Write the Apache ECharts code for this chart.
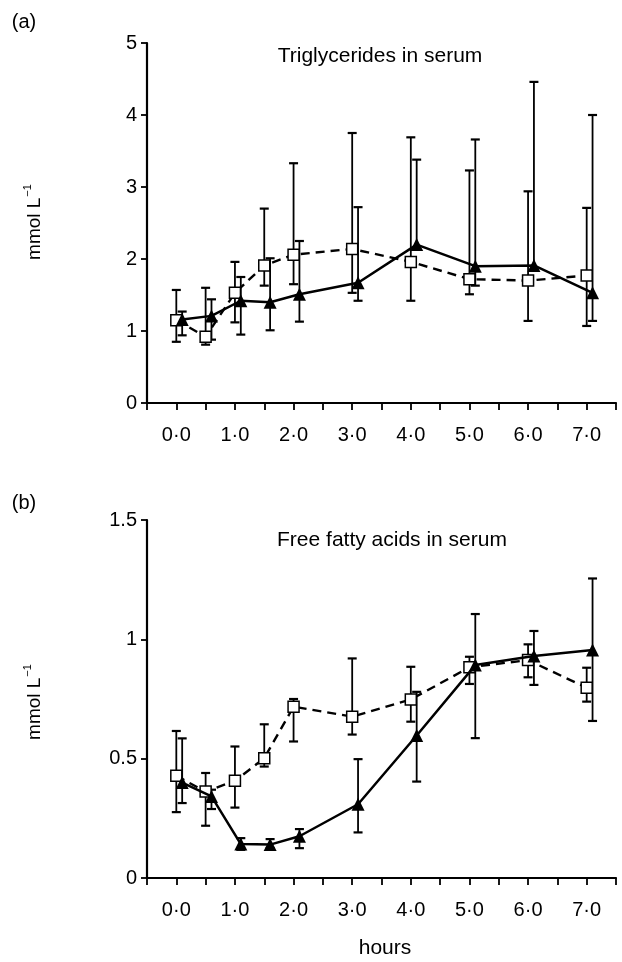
<!DOCTYPE html>
<html><head><meta charset="utf-8">
<script src="https://cdn.jsdelivr.net/npm/echarts@6/dist/echarts.min.js"></script>
<style>html,body{margin:0;padding:0;background:#fff}#c{width:622px;height:962px}</style>
</head><body><div id="c"></div>
<script>
// ---- data ----
const hours = [0, 0.5, 1, 1.5, 2, 3, 4, 5, 6, 7];
const xTickLabels = ['0·0', '1·0', '2·0', '3·0', '4·0', '5·0', '6·0', '7·0'];
const tgTicks = ['0', '1', '2', '3', '4', '5'];
const ffaTicks = ['0', '0.5', '1', '1.5'];

// Panel (a) triglycerides (mmol/L)
const tgSquare      = [1.15, 0.92, 1.53, 1.91, 2.06, 2.14, 1.96, 1.72, 1.70, 1.77];
const tgSquareHigh  = [1.57, 1.60, 1.96, 2.70, 3.33, 3.75, 3.69, 3.23, 2.94, 2.71];
const tgSquareLow   = [0.85, 0.81, 1.12, 1.63, 1.65, 1.53, 1.42, 1.51, 1.14, 1.07];
const tgTriangle     = [1.16, 1.21, 1.42, 1.40, 1.51, 1.67, 2.20, 1.90, 1.91, 1.53];
const tgTriangleHigh = [1.27, 1.44, 1.75, 2.01, 2.25, 2.72, 3.38, 3.66, 4.46, 4.00];
const tgTriangleLow  = [0.94, 0.88, 0.95, 1.01, 1.13, 1.42, 2.20, 1.63, 1.91, 1.14];

// Panel (b) free fatty acids (mmol/L)
const ffaSquare      = [0.428, 0.362, 0.407, 0.502, 0.718, 0.676, 0.748, 0.883, 0.913, 0.797];
const ffaSquareHigh  = [0.616, 0.440, 0.551, 0.644, 0.750, 0.920, 0.885, 0.927, 0.979, 0.881];
const ffaSquareLow   = [0.276, 0.219, 0.295, 0.467, 0.572, 0.601, 0.655, 0.813, 0.841, 0.739];
const ffaTriangle     = [0.400, 0.342, 0.142, 0.140, 0.175, 0.309, 0.597, 0.892, 0.930, 0.955];
const ffaTriangleHigh = [0.585, 0.370, 0.167, 0.163, 0.205, 0.498, 0.780, 1.106, 1.035, 1.255];
const ffaTriangleLow  = [0.314, 0.289, 0.118, 0.125, 0.125, 0.191, 0.404, 0.586, 0.809, 0.658];

// display offset (hours) so the triangle group does not overlap the squares
const TRIANGLE_SHIFT = 0.1;

// ---- chart ----
const FONT = '"Liberation Sans", Arial, Helvetica, sans-serif';
const chart = echarts.init(document.getElementById('c'), null, {renderer: 'canvas'});

function pts(xs, ys, shift) { return xs.map((x, i) => [x + shift, ys[i]]); }
function bars(xs, ys, lo, hi, shift) { return xs.map((x, i) => [x + shift, lo[i], hi[i], ys[i]]); }

function errorBarItem(params, api) {
  const x = api.value(0), lo = api.value(1), hi = api.value(2), v = api.value(3);
  const top = api.coord([x, hi]), bot = api.coord([x, lo]);
  const half = 4.5;
  const style = {stroke: '#000', lineWidth: 1.8};
  const cap = {stroke: '#000', lineWidth: 2.2};
  const ch = [{type: 'line', shape: {x1: top[0], y1: top[1], x2: bot[0], y2: bot[1]}, style}];
  if (hi > v) ch.push({type: 'line', shape: {x1: top[0] - half, y1: top[1], x2: top[0] + half, y2: top[1]}, style: cap});
  if (lo < v) ch.push({type: 'line', shape: {x1: bot[0] - half, y1: bot[1], x2: bot[0] + half, y2: bot[1]}, style: cap});
  return {type: 'group', children: ch};
}

function xAxisFor(gi) {
  return {
    type: 'value', gridIndex: gi, min: -0.5, max: 7.5, interval: 0.5,
    axisLine: {show: true, onZero: false, lineStyle: {color: '#000', width: 2.2}},
    axisTick: {show: true, inside: false, length: 7, lineStyle: {color: '#000', width: 1.8}},
    splitLine: {show: false},
    axisLabel: {
      margin: 22, color: '#000', fontFamily: FONT, fontSize: 20,
      formatter: v => (Math.abs(v - Math.round(v)) < 1e-9 && v >= 0 && v <= 7) ? xTickLabels[Math.round(v)] : ''
    }
  };
}
function yAxisFor(gi, max, interval, labels) {
  return {
    type: 'value', gridIndex: gi, min: 0, max: max, interval: interval,
    axisLine: {show: true, onZero: false, lineStyle: {color: '#000', width: 2.2}},
    axisTick: {show: true, inside: false, length: 6, lineStyle: {color: '#000', width: 1.8}},
    splitLine: {show: false},
    axisLabel: {
      margin: 10, color: '#000', fontFamily: FONT, fontSize: 20,
      formatter: v => labels[Math.round(v / interval)]
    }
  };
}

function panelSeries(gi, sq, sqLo, sqHi, tr, trLo, trHi) {
  return [
    {type: 'custom', xAxisIndex: gi, yAxisIndex: gi, renderItem: errorBarItem, data: bars(hours, sq, sqLo, sqHi, 0), z: 2, silent: true},
    {type: 'custom', xAxisIndex: gi, yAxisIndex: gi, renderItem: errorBarItem, data: bars(hours, tr, trLo, trHi, TRIANGLE_SHIFT), z: 2, silent: true},
    {type: 'line', xAxisIndex: gi, yAxisIndex: gi, data: pts(hours, sq, 0), z: 3,
      symbol: 'rect', symbolSize: 11, showAllSymbol: true,
      lineStyle: {color: '#000', width: 2.4, type: [9, 6]},
      itemStyle: {color: '#fff', borderColor: '#000', borderWidth: 1.5}},
    {type: 'line', xAxisIndex: gi, yAxisIndex: gi, data: pts(hours, tr, TRIANGLE_SHIFT), z: 4,
      symbol: 'triangle', symbolSize: 13, showAllSymbol: true,
      lineStyle: {color: '#000', width: 2.5},
      itemStyle: {color: '#000', borderColor: '#000', borderWidth: 0}}
  ];
}

function txt(x, y, text, size) {
  return {type: 'text', x: x, y: y, style: {text: text, fill: '#000', font: size + 'px ' + FONT, align: 'center', verticalAlign: 'middle'}};
}
function unitLabel(x, y) {
  return {
    type: 'text', x: x, y: y, rotation: Math.PI / 2,
    style: {
      text: '{a|mmol L}{b|−1}', fill: '#000', align: 'center', verticalAlign: 'middle',
      rich: {
        a: {fontSize: 19, fontFamily: FONT, fill: '#000', lineHeight: 22, verticalAlign: 'bottom'},
        b: {fontSize: 11, fontFamily: FONT, fill: '#000', lineHeight: 22, verticalAlign: 'top', padding: [0, 0, 0, 1]}
      }
    }
  };
}

chart.setOption({
  animation: false,
  backgroundColor: '#fff',
  grid: [
    {left: 147, top: 43, width: 469, height: 360},
    {left: 147, top: 520, width: 469, height: 358}
  ],
  xAxis: [xAxisFor(0), xAxisFor(1)],
  yAxis: [yAxisFor(0, 5, 1, tgTicks), yAxisFor(1, 1.5, 0.5, ffaTicks)],
  series: [
    ...panelSeries(0, tgSquare, tgSquareLow, tgSquareHigh, tgTriangle, tgTriangleLow, tgTriangleHigh),
    ...panelSeries(1, ffaSquare, ffaSquareLow, ffaSquareHigh, ffaTriangle, ffaTriangleLow, ffaTriangleHigh)
  ],
  graphic: [
    txt(24, 22, '(a)', 20),
    txt(24, 503, '(b)', 20),
    txt(380, 56, 'Triglycerides in serum', 21),
    txt(392, 540, 'Free fatty acids in serum', 21),
    txt(385, 948, 'hours', 21),
    unitLabel(33, 222),
    unitLabel(33, 702)
  ]
});
</script>
</body></html>
